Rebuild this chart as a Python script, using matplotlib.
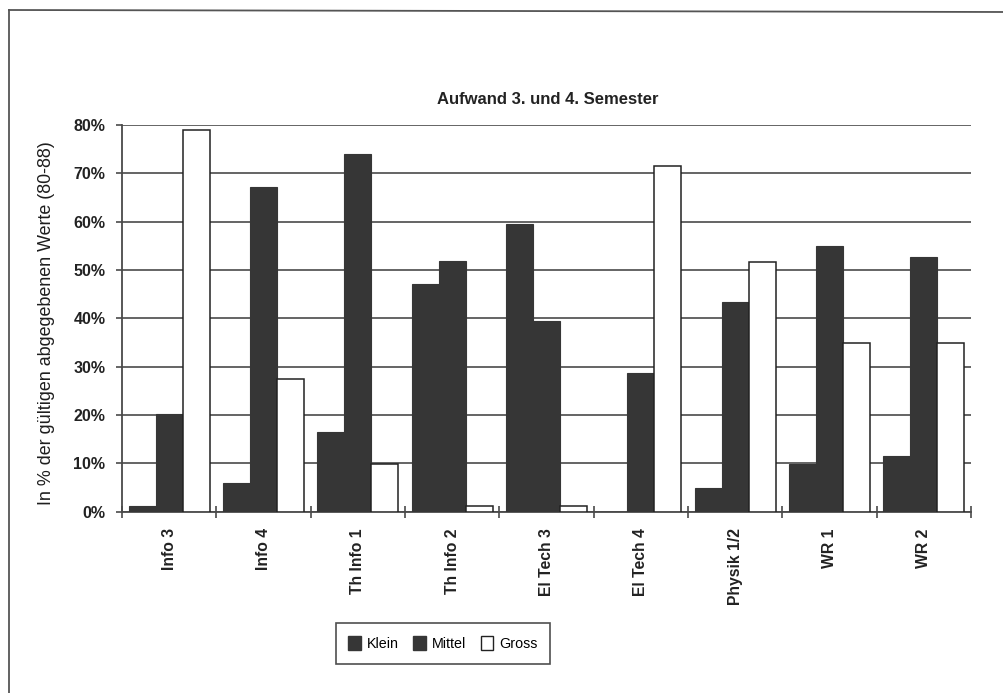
import matplotlib
matplotlib.use("Agg")
import matplotlib.pyplot as plt
import numpy as np
from matplotlib.patches import Patch
from matplotlib.lines import Line2D

plt.rcParams['font.family'] = ['Liberation Sans', 'DejaVu Sans']

# Effort per course, share of valid answers
courses = ["Info 3", "Info 4", "Th Info 1", "Th Info 2", "El Tech 3",
           "El Tech 4", "Physik 1/2", "WR 1", "WR 2"]
klein = [1.2, 5.9, 16.5, 47.2, 59.5, 0.0, 4.8, 9.9, 11.6]
mittel = [20.2, 67.1, 73.9, 51.8, 39.5, 28.6, 43.4, 54.9, 52.6]
gross = [78.9, 27.5, 9.9, 1.2, 1.2, 71.6, 51.7, 34.8, 34.9]
series_names = ["Klein", "Mittel", "Gross"]
y_ticks = [0, 10, 20, 30, 40, 50, 60, 70, 80]

W, H = 1004, 693
fig = plt.figure(figsize=(W / 100, H / 100), dpi=100)
fig.patch.set_facecolor("white")

left, right, bottom, top = 122, 971, 511.7, 125
ax = fig.add_axes([left / W, 1 - bottom / H, (right - left) / W, (bottom - top) / H])

dark = "#363636"
grid_c = "#4a4a4a"
x = np.arange(len(courses))
bw = 0.286
ax.bar(x - bw, klein, bw, color=dark, edgecolor=dark, linewidth=0.8, zorder=3)
ax.bar(x, mittel, bw, color=dark, edgecolor=dark, linewidth=0.8, zorder=3)
ax.bar(x + bw, gross, bw, color="white", edgecolor="#222222", linewidth=1.1, zorder=3)

ax.set_xlim(-0.5, len(courses) - 0.5)
ax.set_ylim(0, 80)
ax.set_yticks(y_ticks)
ax.set_yticklabels([f"{v}%" for v in y_ticks], fontsize=11.5, fontweight="bold", color="#222222")
ax.yaxis.grid(True, color=grid_c, linewidth=1.2, zorder=0)
ax.set_axisbelow(True)

ax.set_xticks(x)
ax.set_xticklabels(courses, rotation=90, fontsize=11.3, fontweight="bold", color="#222222")
ax.tick_params(axis="x", which="major", length=0, pad=12)
ax.set_xticks(np.arange(-0.5, len(courses)), minor=True)
ax.tick_params(axis="x", which="minor", direction="inout", length=8, width=1.2, color=grid_c)
ax.tick_params(axis="y", direction="out", length=4, width=1.2, color=grid_c, pad=8)

for s in ("top", "right"):
    ax.spines[s].set_visible(False)
for s in ("left", "bottom"):
    ax.spines[s].set_color(grid_c)
    ax.spines[s].set_linewidth(1.3)

ax.set_ylabel("In % der gültigen abgegebenen Werte (80-88)", fontsize=12.9, color="#1e1e1e")
ax.yaxis.set_label_coords((55 - left) / (right - left), (bottom - 323.5) / (bottom - top))

fig.text(548 / W, 1 - 100 / H, "Aufwand 3. und 4. Semester", ha="center", va="center",
         fontsize=12, fontweight="bold", color="#222222")

handles = [Patch(facecolor=dark, edgecolor=dark),
           Patch(facecolor=dark, edgecolor=dark),
           Patch(facecolor="white", edgecolor="#222222", linewidth=1.0)]
leg = fig.legend(handles, series_names, loc="center", bbox_to_anchor=(443 / W, 1 - 643.5 / H),
                 ncol=3, fontsize=10.3, frameon=True, fancybox=False, handlelength=0.9,
                 handleheight=1.1, handletextpad=0.4, columnspacing=1.0, borderpad=0.9,
                 borderaxespad=0.0)
leg.get_frame().set_edgecolor("#222222")
leg.get_frame().set_linewidth(1.2)

# outer chart border (top and left edges visible)
fig.add_artist(Line2D([9 / W, 9 / W], [1 - 10 / H, 0], color="#555555", linewidth=1.3))
fig.add_artist(Line2D([9 / W, 1], [1 - 10 / H, 1 - 12 / H], color="#555555", linewidth=1.3))

fig.savefig("out.png", dpi=100, facecolor="white")
